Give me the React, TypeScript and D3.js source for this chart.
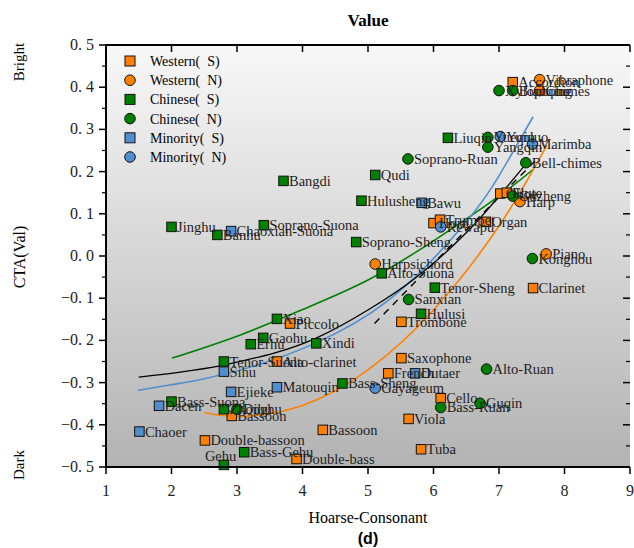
import React from "react";
import * as d3 from "d3";

type Pt = { name: string; x: number; y: number };

// Instrument coordinates (Hoarse-Consonant, CTA(Val))
const westernS: Pt[] = [
  { name: "Accordion", x: 7.21, y: 0.412 },
  { name: "Oboe", x: 7.02, y: 0.148 },
  { name: "Flute", x: 7.12, y: 0.15 },
  { name: "Horn", x: 6.0, y: 0.078 },
  { name: "Trumpet", x: 6.1, y: 0.086 },
  { name: "Organ", x: 6.8, y: 0.081 },
  { name: "Clarinet", x: 7.52, y: -0.076 },
  { name: "Piccolo", x: 3.81, y: -0.16 },
  { name: "Alto-clarinet", x: 3.61, y: -0.25 },
  { name: "Trombone", x: 5.51, y: -0.156 },
  { name: "Saxophone", x: 5.51, y: -0.242 },
  { name: "French", x: 5.31, y: -0.278 },
  { name: "Cello", x: 6.11, y: -0.337 },
  { name: "Viola", x: 5.62, y: -0.386 },
  { name: "Tuba", x: 5.81, y: -0.458 },
  { name: "Bassoon", x: 2.92, y: -0.379 },
  { name: "Bassoon", x: 4.31, y: -0.412 },
  { name: "Double-bassoon", x: 2.51, y: -0.437 },
  { name: "Double-bass", x: 3.91, y: -0.481 },
];

const westernN: Pt[] = [
  { name: "Vibraphone", x: 7.62, y: 0.418 },
  { name: "Chimes", x: 7.62, y: 0.392 },
  { name: "Harp", x: 7.32, y: 0.129 },
  { name: "Piano", x: 7.72, y: 0.005 },
  { name: "Harpsichord", x: 5.11, y: -0.019 },
];

const chineseS: Pt[] = [
  { name: "Bangdi", x: 3.71, y: 0.178 },
  { name: "Jinghu", x: 2.0, y: 0.069 },
  { name: "Banhu", x: 2.7, y: 0.05 },
  { name: "Soprano-Suona", x: 3.41, y: 0.073 },
  { name: "Hulusheng", x: 4.9, y: 0.131 },
  { name: "Qudi", x: 5.11, y: 0.192 },
  { name: "Soprano-Sheng", x: 4.82, y: 0.033 },
  { name: "Alto-Suona", x: 5.21, y: -0.041 },
  { name: "Tenor-Sheng", x: 6.02, y: -0.075 },
  { name: "Liuqin", x: 6.22, y: 0.28 },
  { name: "Xiao", x: 3.61, y: -0.149 },
  { name: "Gaohu", x: 3.4, y: -0.194 },
  { name: "Erhu", x: 3.21, y: -0.209 },
  { name: "Xindi", x: 4.21, y: -0.207 },
  { name: "Tenor-Suona", x: 2.8, y: -0.25 },
  { name: "Bass-Sheng", x: 4.61, y: -0.302 },
  { name: "Hulusi", x: 5.81, y: -0.137 },
  { name: "Bass-Suona", x: 2.0, y: -0.345 },
  { name: "Zhonghu", x: 2.8, y: -0.363 },
  { name: "Bass-Gehu", x: 3.11, y: -0.465 },
  { name: "Gehu", x: 2.8, y: -0.495 },
];

const chineseN: Pt[] = [
  { name: "Soprano-Ruan", x: 5.61, y: 0.23 },
  { name: "Sanxian", x: 5.62, y: -0.103 },
  { name: "Alto-Ruan", x: 6.81, y: -0.268 },
  { name: "Bass-Ruan", x: 6.11, y: -0.359 },
  { name: "Guqin", x: 6.71, y: -0.349 },
  { name: "Konghou", x: 7.51, y: -0.006 },
  { name: "Guzheng", x: 7.21, y: 0.142 },
  { name: "Bell-chimes", x: 7.41, y: 0.221 },
  { name: "Xylophone", x: 7.0, y: 0.392 },
  { name: "Bianqing", x: 7.21, y: 0.392 },
  { name: "Yueqin", x: 6.83, y: 0.281 },
  { name: "Yangqin", x: 6.83, y: 0.258 },
  { name: "Dihu", x: 3.0, y: -0.363 },
];

const minorityS: Pt[] = [
  { name: "Chaoxian-Suona", x: 2.91, y: 0.059 },
  { name: "Bawu", x: 5.82, y: 0.126 },
  { name: "Sihu", x: 2.8, y: -0.274 },
  { name: "Ejieke", x: 2.91, y: -0.322 },
  { name: "Matouqin", x: 3.61, y: -0.311 },
  { name: "Dacen", x: 1.81, y: -0.355 },
  { name: "Chaoer", x: 1.51, y: -0.416 },
  { name: "Dutaer", x: 5.72, y: -0.278 },
];

const minorityN: Pt[] = [
  { name: "Rewapu", x: 6.11, y: 0.069 },
  { name: "Gayageum", x: 5.11, y: -0.313 },
  { name: "Yunluo", x: 7.02, y: 0.283 },
  { name: "Marimba", x: 7.51, y: 0.265 },
];

// Trend curves traced through the cloud
const fitGreen: [number, number][] = [
  [2.01, -0.242], [3.0, -0.19], [4.0, -0.127], [5.0, -0.057], [6.0, 0.036], [7.0, 0.142], [7.52, 0.205],
];
const fitBlue: [number, number][] = [
  [1.49, -0.318], [2.5, -0.291], [3.5, -0.249], [4.5, -0.184], [5.5, -0.081], [6.5, 0.081], [7.0, 0.19], [7.52, 0.33],
];
const fitBlack: [number, number][] = [
  [1.5, -0.287], [2.9, -0.255], [4.2, -0.195], [5.03, -0.125], [5.7, -0.055], [6.5, 0.055], [7.43, 0.222],
];
const fitBlackDash: [number, number][] = [
  [5.1, -0.16], [6.3, 0.03], [7.55, 0.225],
];
const fitOrange: [number, number][] = [
  [2.5, -0.371], [3.05, -0.38], [4.0, -0.354], [5.0, -0.27], [6.0, -0.128], [7.0, 0.071], [7.73, 0.262],
];

const xTicks = [1, 2, 3, 4, 5, 6, 7, 8, 9];
const yTicks = [0.5, 0.4, 0.3, 0.2, 0.1, 0.0, -0.1, -0.2, -0.3, -0.4, -0.5];

const ORANGE = "#ff8000";
const GREEN = "#008000";
const BLUE = "#4f8fd0";

const legendItems = [
  { label: "Western(\u2002S)", color: ORANGE, shape: "s" },
  { label: "Western(\u2002N)", color: ORANGE, shape: "c" },
  { label: "Chinese(\u2002S)", color: GREEN, shape: "s" },
  { label: "Chinese(\u2002N)", color: GREEN, shape: "c" },
  { label: "Minority(\u2002S)", color: BLUE, shape: "s" },
  { label: "Minority(\u2002N)", color: BLUE, shape: "c" },
];

const W = 634;
const H = 548;
const L = 106, R = 630, T = 45, B = 467;

const fmtY = (v: number) => {
  const s = Math.abs(v).toFixed(1).replace(".", ". ");
  return v < 0 ? "\u2212" + s : s;
};

export default function App() {
  const x = d3.scaleLinear().domain([1, 9]).range([L, R]);
  const y = d3.scaleLinear().domain([-0.5, 0.5]).range([B, T]);
  const line = d3
    .line<[number, number]>()
    .x((d) => x(d[0]))
    .y((d) => y(d[1]))
    .curve(d3.curveMonotoneX);
  const curved = d3
    .line<[number, number]>()
    .x((d) => x(d[0]))
    .y((d) => y(d[1]))
    .curve(d3.curveNatural);

  const serif = "'Liberation Serif', 'Times New Roman', serif";
  const sq = 9.5;
  const cr = 5.3;

  const squares = (pts: Pt[], color: string) =>
    pts.map((p, i) => (
      <rect key={"s" + p.name + i} x={x(p.x) - sq / 2} y={y(p.y) - sq / 2} width={sq} height={sq}
        fill={color} stroke="#111" strokeWidth={1} />
    ));
  const circles = (pts: Pt[], color: string) =>
    pts.map((p, i) => (
      <circle key={"c" + p.name + i} cx={x(p.x)} cy={y(p.y)} r={cr} fill={color} stroke="#111" strokeWidth={1} />
    ));
  const labels = (pts: Pt[], off: number) =>
    pts.map((p, i) => (
      <text key={"t" + p.name + i} x={x(p.x) + off} y={y(p.y) + 5} fontSize={14.5} fill="#1e1e1e">
        {p.name}
      </text>
    ));

  const yMinor = d3.range(-0.45, 0.5, 0.1);

  return (
    <svg width={W} height={H} style={{ display: "block", position: "absolute", left: 0, top: 0 }} fontFamily={serif}>
      <defs>
        <linearGradient id="bg" x1="0" y1="0" x2="0" y2="1">
          <stop offset="0" stopColor="#f8f8f8" />
          <stop offset="1" stopColor="#b3b3b3" />
        </linearGradient>
      </defs>
      <rect width={W} height={H} fill="#fff" />
      <rect x={L} y={T} width={R - L} height={B - T} fill="url(#bg)" />

      {/* trend curves */}
      <g fill="none" strokeWidth={1.6}>
        <path d={curved(fitGreen) ?? ""} stroke={GREEN} />
        <path d={curved(fitBlue) ?? ""} stroke={BLUE} />
        <path d={curved(fitOrange) ?? ""} stroke={ORANGE} />
        <path d={line(fitBlack) ?? ""} stroke="#000" strokeWidth={1.3} />
        <path d={line(fitBlackDash) ?? ""} stroke="#000" strokeWidth={1.4} strokeDasharray="7 6" />
      </g>

      {/* markers */}
      <g>
        {squares(westernS, ORANGE)}
        {circles(westernN, ORANGE)}
        {squares(chineseS, GREEN)}
        {circles(chineseN, GREEN)}
        {squares(minorityS, BLUE)}
        {circles(minorityN, BLUE)}
      </g>
      <g>
        {labels(westernS, 5.5)}
        {labels(westernN, 6)}
        {labels(chineseS.filter((p) => p.name !== "Gehu"), 5.5)}
        {labels(chineseN, 6)}
        {labels(minorityS, 5.5)}
        {labels(minorityN, 6)}
        <text x={x(2.8) - 19} y={y(-0.495) - 4} fontSize={14.5} fill="#1e1e1e">Gehu</text>
      </g>

      {/* legend */}
      <g>
        {legendItems.map((d, i) => {
          const cy = 61 + i * 19.2;
          return (
            <g key={d.label}>
              {d.shape === "s" ? (
                <rect x={130 - 5} y={cy - 5} width={10} height={10} fill={d.color} stroke="#111" />
              ) : (
                <circle cx={130} cy={cy} r={5.3} fill={d.color} stroke="#111" />
              )}
              <text x={150} y={cy + 5} fontSize={14}>{d.label}</text>
            </g>
          );
        })}
      </g>

      {/* axes */}
      <g stroke="#000">
        <line x1={L} x2={L} y1={T - 1} y2={B + 1} strokeWidth={2} />
        <line x1={L - 1} x2={R} y1={B} y2={B} strokeWidth={2} />
        <line x1={L - 1} x2={R} y1={T} y2={T} strokeWidth={2} />
        {yTicks.map((v) => (
          <g key={"yt" + v}>
            <line x1={L - 7} x2={L} y1={y(v)} y2={y(v)} strokeWidth={1.5} />
            <line x1={R - 7} x2={R} y1={y(v)} y2={y(v)} strokeWidth={1.5} />
          </g>
        ))}
        {yMinor.map((v) => (
          <g key={"ym" + v}>
            <line x1={L - 4} x2={L} y1={y(v)} y2={y(v)} strokeWidth={1.2} />
            <line x1={R - 4} x2={R} y1={y(v)} y2={y(v)} strokeWidth={1.2} />
          </g>
        ))}
        {xTicks.map((v) => (
          <g key={"xt" + v}>
            <line x1={x(v)} x2={x(v)} y1={B} y2={B + 7} strokeWidth={1.5} />
            <line x1={x(v)} x2={x(v)} y1={T} y2={T + 7} strokeWidth={1.5} />
          </g>
        ))}
      </g>
      <g fontSize={16} fill="#222">
        {yTicks.map((v) => (
          <text key={"yl" + v} x={L - 12} y={y(v) + 5} textAnchor="end">{fmtY(v)}</text>
        ))}
        {xTicks.map((v) => (
          <text key={"xl" + v} x={x(v)} y={496} textAnchor="middle">{v}</text>
        ))}
      </g>

      {/* titles */}
      <text x={(L + R) / 2} y={26} textAnchor="middle" fontSize={17} fontWeight="bold">Value</text>
      <text x={(L + R) / 2} y={523} textAnchor="middle" fontSize={16}>Hoarse-Consonant</text>
      <text transform={`translate(25,257) rotate(-90)`} textAnchor="middle" fontSize={16}>CTA(Val)</text>
      <text transform={`translate(24,62) rotate(-90)`} textAnchor="middle" fontSize={15}>Bright</text>
      <text transform={`translate(24,465) rotate(-90)`} textAnchor="middle" fontSize={15}>Dark</text>
      <text x={(L + R) / 2} y={544} textAnchor="middle" fontSize={16} fontWeight="bold"
        fontFamily="'Liberation Sans', Arial, sans-serif">(d)</text>
    </svg>
  );
}
